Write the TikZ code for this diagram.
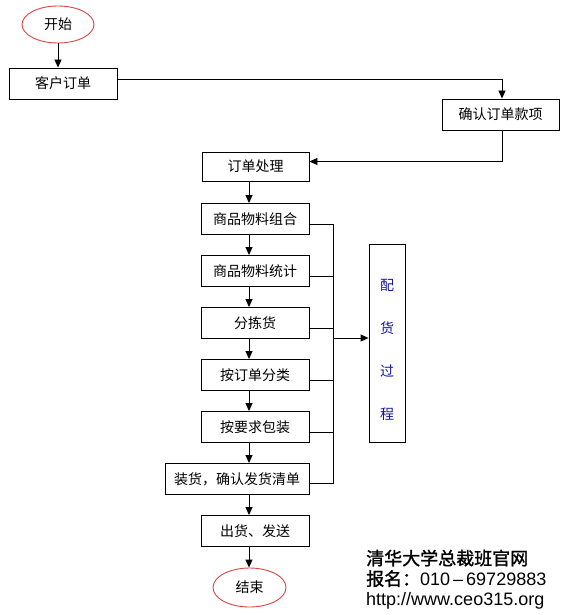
\documentclass[tikz,border=0pt]{standalone}
\usepackage{fontspec}
\setmainfont{Liberation Sans}
\newfontfamily\cjk{Noto Sans CJK SC}
\newfontfamily\cjkh[FakeBold=1.3]{Noto Sans CJK SC}
\usetikzlibrary{arrows.meta,shapes.geometric}
\definecolor{ered}{RGB}{220,70,70}
\definecolor{pblue}{RGB}{20,20,160}
\tikzset{
  box/.style={draw, line width=0.9pt, minimum width=108pt, minimum height=31pt, inner sep=0pt,
              font=\cjk\fontsize{14}{16}\selectfont},
  term/.style={ellipse, draw=ered, line width=0.9pt, inner sep=0pt, fill=white,
              font=\cjk\fontsize{14}{16}\selectfont},
  arr/.style={line width=0.9pt, -{Triangle[length=8pt,width=7pt]}},
  wire/.style={line width=0.9pt},
  foot/.style={anchor=north west, align=left, inner sep=0pt, font=\fontsize{18}{20.5}\selectfont},
}
\begin{document}
\begin{tikzpicture}[x=1pt,y=-1pt]
\useasboundingbox (0,0) rectangle (566,615);
% nodes
\node[term, minimum width=72pt, minimum height=37pt] (start) at (58,24.5) {开始};
\node[box] (kh) at (63,83.5) {客户订单};
\node[box, minimum width=117pt] (qr) at (500.5,114.5) {确认订单款项};
\node[box, minimum width=107pt, minimum height=29pt] (dd) at (255.5,166.5) {订单处理};
\node[box] (b1) at (255,219) {商品物料组合};
\node[box] (b2) at (255,271) {商品物料统计};
\node[box] (b3) at (255,323) {分拣货};
\node[box] (b4) at (255,375) {按订单分类};
\node[box] (b5) at (255,427) {按要求包装};
\node[box, minimum width=144pt] (b6) at (237,479) {装货，确认发货清单};
\node[box] (b7) at (255,531) {出货、发送};
\node[term, minimum width=73pt, minimum height=39pt] (end) at (249.5,587.5) {结束};
\node[box, minimum width=36pt, minimum height=198pt, text=pblue] (ph) at (387,343)
  {\raisebox{-7pt}[\height][\depth]{\parbox{20pt}{\centering\fontsize{14}{43}\selectfont 配\\货\\过\\程}}};
\node[foot] (ft) at (366,549.5) {{\cjkh 清华大学总裁班官网}\\{\cjkh 报名：}010\hspace{3pt}--\hspace{3pt}69729883\\http://www.ceo315.org};
% coordinates
\coordinate (col) at (249,0);
\coordinate (bus) at (333,0);
% connectors
\draw[arr] (start.south) -- (start.south |- kh.north);
\draw[arr] ([yshift=4.5pt]kh.east) -| ([xshift=1.5pt]qr.north);
\draw[arr] ([xshift=1.5pt]qr.south) |- ([yshift=5pt]dd.east);
\draw[arr] (dd.south -| col) -- (b1.north -| col);
\draw[arr] (b1.south -| col) -- (b2.north -| col);
\draw[arr] (b2.south -| col) -- (b3.north -| col);
\draw[arr] (b3.south -| col) -- (b4.north -| col);
\draw[arr] (b4.south -| col) -- (b5.north -| col);
\draw[arr] (b5.south -| col) -- (b6.north -| col);
\draw[arr] (b6.south -| col) -- (b7.north -| col);
\draw[arr] (b7.south -| col) -- (end.north -| col);
\foreach \b in {b1,b2,b3,b4,b5}
  \draw[wire] ([yshift=-5pt]\b.east) -- ([yshift=-5pt]\b.east -| bus);
\draw[wire] ([yshift=-4pt]b6.east) -| ([yshift=-5pt]b1.east -| bus);
\draw[arr] ([yshift=5pt]ph.west -| bus) -- ([yshift=5pt]ph.west);
\end{tikzpicture}
\end{document}
